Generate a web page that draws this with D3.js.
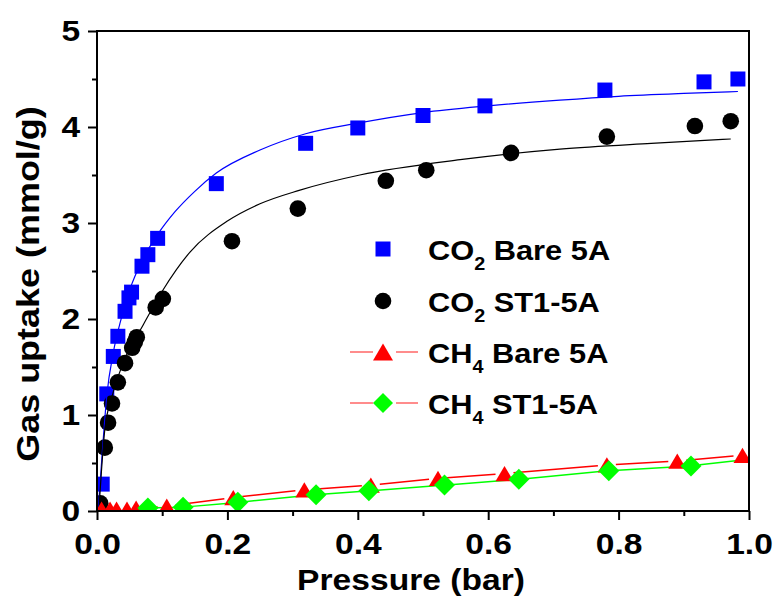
<!DOCTYPE html>
<html>
<head>
<meta charset="utf-8">
<script src="https://cdn.jsdelivr.net/npm/d3@7"></script>
<style>
body { margin: 0; background: #fff; }
text { font-family: Arial, "Liberation Sans", sans-serif; font-weight: bold; fill: #000; }
</style>
</head>
<body>
<svg id="chart" width="776" height="604"></svg>
<script>
// CO2 on bare 5A (blue squares)
const co2BareP = [0.008, 0.015, 0.025, 0.032, 0.043, 0.049, 0.053, 0.069, 0.078, 0.093, 0.183, 0.32, 0.40, 0.50, 0.595, 0.779, 0.931, 0.983];
const co2BareV = [0.28, 1.22, 1.61, 1.82, 2.08, 2.22, 2.28, 2.55, 2.67, 2.84, 3.41, 3.83, 3.99, 4.12, 4.22, 4.385, 4.47, 4.50];

// CO2 on ST1-5A (black circles)
const co2StP = [0.005, 0.012, 0.017, 0.023, 0.032, 0.043, 0.054, 0.058, 0.061, 0.090, 0.101, 0.207, 0.308, 0.443, 0.505, 0.635, 0.782, 0.917, 0.972];
const co2StV = [0.08, 0.66, 0.92, 1.12, 1.34, 1.54, 1.70, 1.76, 1.81, 2.12, 2.21, 2.81, 3.15, 3.44, 3.55, 3.73, 3.90, 4.01, 4.06];

// fitted curves
const fitBareP = [0.002, 0.008, 0.015, 0.025, 0.035, 0.05, 0.07, 0.093, 0.12, 0.15, 0.183, 0.25, 0.32, 0.40, 0.50, 0.60, 0.71, 0.80, 0.90, 0.983];
const fitBareV = [0.02, 0.60, 1.20, 1.65, 1.95, 2.30, 2.62, 2.88, 3.12, 3.33, 3.52, 3.76, 3.93, 4.04, 4.15, 4.22, 4.28, 4.32, 4.35, 4.37];
const fitStP = [0.003, 0.012, 0.023, 0.04, 0.071, 0.101, 0.143, 0.20, 0.25, 0.31, 0.403, 0.557, 0.71, 0.85, 0.972];
const fitStV = [0.02, 0.85, 1.19, 1.54, 1.94, 2.30, 2.70, 3.02, 3.20, 3.34, 3.50, 3.66, 3.77, 3.83, 3.875];

// CH4 on bare 5A (red triangles)
const ch4BareP = [0.007, 0.02, 0.03, 0.046, 0.06, 0.077, 0.107, 0.209, 0.318, 0.42, 0.523, 0.625, 0.782, 0.89, 0.99];
const ch4BareV = [0.02, 0.02, 0.02, 0.02, 0.03, 0.03, 0.05, 0.14, 0.22, 0.27, 0.34, 0.39, 0.48, 0.52, 0.58];

// CH4 on ST1-5A (green diamonds)
const ch4StP = [0.078, 0.132, 0.216, 0.336, 0.417, 0.533, 0.647, 0.785, 0.911, 1.02];
const ch4StV = [0.03, 0.04, 0.09, 0.17, 0.21, 0.27, 0.33, 0.42, 0.47, 0.555];

const xMajor = [0, 0.2, 0.4, 0.6, 0.8, 1.0];
const xMinor = [0.1, 0.3, 0.5, 0.7, 0.9];
const yMajor = [0, 1, 2, 3, 4, 5];
const yMinor = [0.5, 1.5, 2.5, 3.5, 4.5];

const legendRows = [
  { gas: "CO", sub: "2", rest: " Bare 5A", shape: "square", color: "#0000ff", line: false },
  { gas: "CO", sub: "2", rest: " ST1-5A", shape: "circle", color: "#000000", line: false },
  { gas: "CH", sub: "4", rest: " Bare 5A", shape: "triangle", color: "#ff0000", line: true },
  { gas: "CH", sub: "4", rest: " ST1-5A", shape: "diamond", color: "#00ff00", line: true }
];

const margin = { left: 97, top: 31 };
const width = 652, height = 480;
const fontSize = 30, stretch = 1.12;

const svg = d3.select("#chart");
const g = svg.append("g").attr("transform", `translate(${margin.left},${margin.top})`);

const x = d3.scaleLinear().domain([0, 1]).range([0, width]);
const y = d3.scaleLinear().domain([0, 5]).range([height, 0]);

const zip = (a, b) => a.map((v, i) => [v, b[i]]);

svg.append("defs").append("clipPath").attr("id", "plotClip")
  .append("rect").attr("width", width).attr("height", height);

// marker shapes, centred on their bounding box
function shapePath(shape, s) {
  if (shape === "square") return `M${-s},${-s}H${s}V${s}H${-s}Z`;
  if (shape === "circle") return d3.arc()({ innerRadius: 0, outerRadius: s, startAngle: 0, endAngle: 2 * Math.PI });
  if (shape === "triangle") return `M0,${-s * 0.85}L${s},${s * 0.85}L${-s},${s * 0.85}Z`;
  return `M0,${-s}L${s},0L0,${s}L${-s},0Z`;
}

const plot = g.append("g").attr("clip-path", "url(#plotClip)");

// CH4 connecting lines with gaps around the symbols
function gapLines(pts, color, gap) {
  const segs = [];
  for (let i = 0; i < pts.length - 1; i++) {
    const x1 = x(pts[i][0]), y1 = y(pts[i][1]), x2 = x(pts[i + 1][0]), y2 = y(pts[i + 1][1]);
    const len = Math.hypot(x2 - x1, y2 - y1);
    if (len <= 2 * gap) continue;
    const ux = (x2 - x1) / len, uy = (y2 - y1) / len;
    segs.push([x1 + ux * gap, y1 + uy * gap, x2 - ux * gap, y2 - uy * gap]);
  }
  plot.selectAll(null).data(segs).enter().append("line")
    .attr("x1", d => d[0]).attr("y1", d => d[1])
    .attr("x2", d => d[2]).attr("y2", d => d[3])
    .attr("stroke", color).attr("stroke-width", 1.5);
}

const line = d3.line().x(d => x(d[0])).y(d => y(d[1])).curve(d3.curveMonotoneX);

function markers(pts, shape, size, color) {
  plot.selectAll(null).data(pts).enter().append("path")
    .attr("transform", d => `translate(${x(d[0])},${y(d[1])})`)
    .attr("d", shapePath(shape, size))
    .attr("fill", color);
}

markers(zip(co2BareP, co2BareV), "square", 7.5, "#0000ff");
markers(zip(co2StP, co2StV), "circle", 8.3, "#000000");
plot.append("path").datum(zip(fitBareP, fitBareV)).attr("d", line)
  .attr("fill", "none").attr("stroke", "#0000ff").attr("stroke-width", 1.2);
plot.append("path").datum(zip(fitStP, fitStV)).attr("d", line)
  .attr("fill", "none").attr("stroke", "#000000").attr("stroke-width", 1.2);

gapLines(zip(ch4BareP, ch4BareV), "#ff0000", 9);
gapLines(zip(ch4StP, ch4StV), "#00ff00", 9);
markers(zip(ch4BareP, ch4BareV), "triangle", 9, "#ff0000");
markers(zip(ch4StP, ch4StV), "diamond", 10.5, "#00ff00");

// frame
g.append("rect").attr("width", width).attr("height", height)
  .attr("fill", "none").attr("stroke", "#000").attr("stroke-width", 2);

function styleAxis(sel) {
  sel.select(".domain").remove();
  sel.selectAll("line").attr("stroke", "#000").attr("stroke-width", 2);
  sel.selectAll("text").style("font-size", fontSize + "px").style("font-family", null).attr("fill", "#000");
}

const xAxis = g.append("g").attr("transform", `translate(0,${height})`)
  .call(d3.axisBottom(x).tickValues(xMajor).tickSize(9).tickPadding(13).tickFormat(d3.format(".1f")));
styleAxis(xAxis);
xAxis.selectAll("text").attr("transform", `scale(${stretch},1)`);
g.append("g").attr("transform", `translate(0,${height})`)
  .call(d3.axisBottom(x).tickValues(xMinor).tickSize(5).tickFormat(""))
  .call(styleAxis);

const yAxis = g.append("g")
  .call(d3.axisLeft(y).tickValues(yMajor).tickSize(9).tickPadding(6).tickFormat(d3.format("d")));
styleAxis(yAxis);
yAxis.selectAll("text").attr("transform", `scale(${stretch},1)`);
g.append("g")
  .call(d3.axisLeft(y).tickValues(yMinor).tickSize(5).tickFormat(""))
  .call(styleAxis);

// axis titles
svg.append("text").attr("transform", `translate(411,590) scale(${stretch},1)`)
  .attr("text-anchor", "middle").style("font-size", "30px").text("Pressure (bar)");
svg.append("text").attr("transform", "translate(39,284) rotate(-90) scale(1.16,1)")
  .attr("text-anchor", "middle").style("font-size", "31px").text("Gas uptake (mmol/g)");

// legend
const legend = svg.append("g");
const rowY = [249, 301, 352, 403];
legendRows.forEach((r, i) => {
  const row = legend.append("g").attr("transform", `translate(383,${rowY[i]})`);
  if (r.line) {
    row.append("line").attr("x1", -33).attr("x2", -10).attr("stroke", "#ff6666").attr("stroke-width", 1.5);
    row.append("line").attr("x1", 13).attr("x2", 35).attr("stroke", "#ff6666").attr("stroke-width", 1.5);
  }
  const size = { square: 7.5, circle: 8.3, triangle: 10, diamond: 10 }[r.shape];
  row.append("path").attr("d", shapePath(r.shape, size)).attr("fill", r.color);
  const t = row.append("text").attr("transform", `translate(45,11) scale(1.1,1)`).style("font-size", "28px");
  t.append("tspan").text(r.gas);
  t.append("tspan").attr("dy", 10).style("font-size", "18px").text(r.sub);
  t.append("tspan").attr("dy", -10).text(r.rest);
});
</script>
</body>
</html>
